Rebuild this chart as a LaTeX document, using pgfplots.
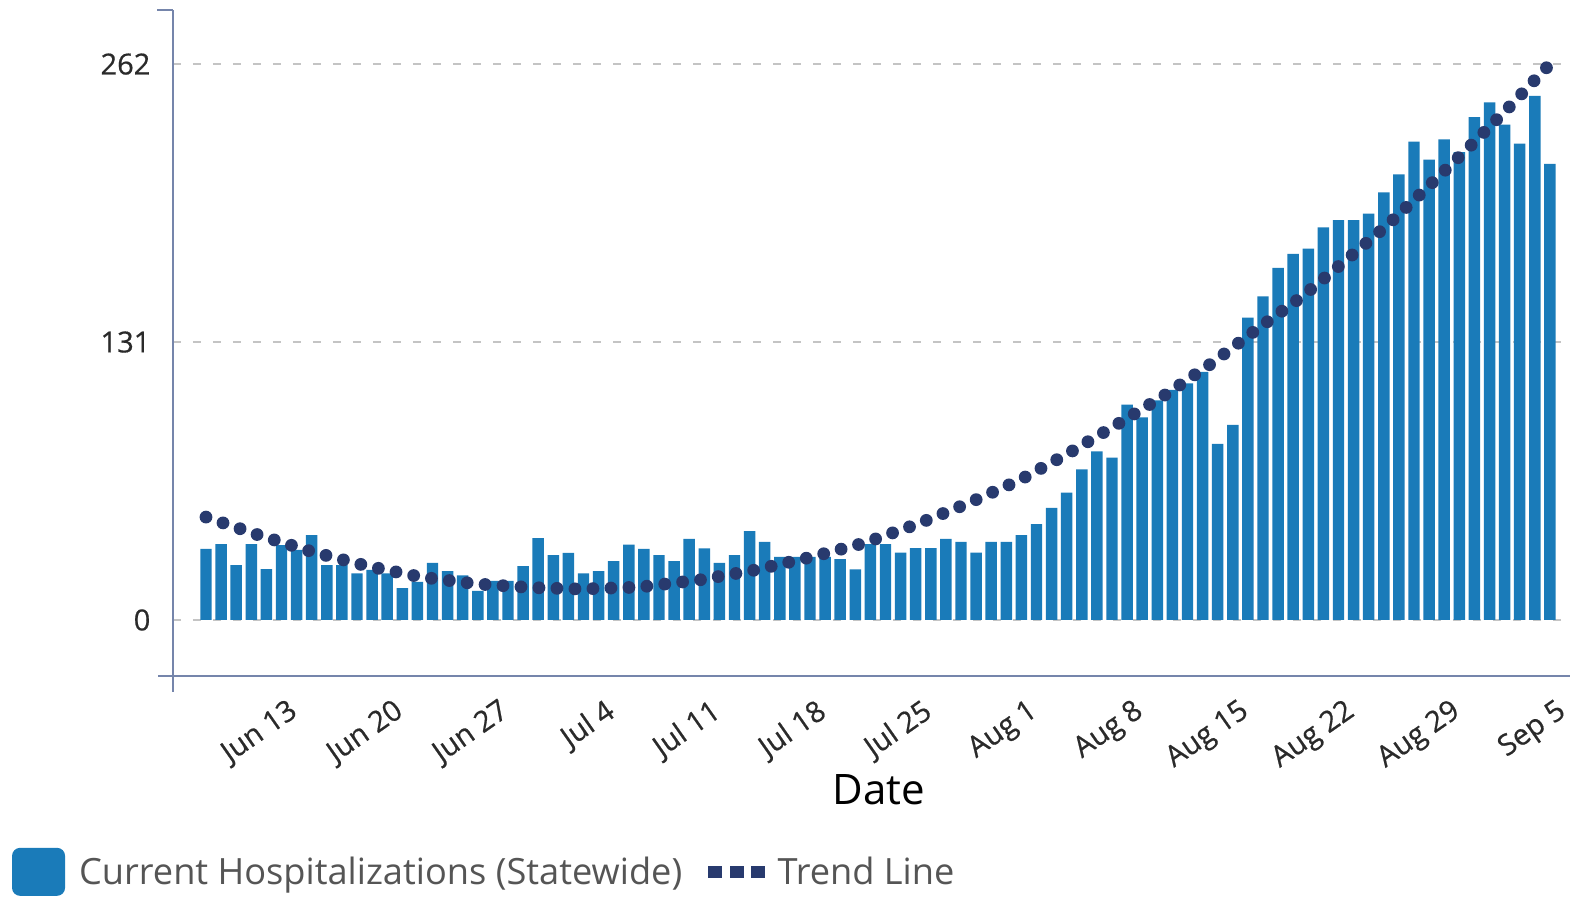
\documentclass[border=0pt]{standalone}
\usepackage{pgfplots}
\usepackage{pgfplotstable}
\pgfplotsset{compat=1.18}
\usepackage{fontspec}
\setmainfont{Open Sans}
\newfontfamily\tickfont[FakeBold=0.6]{Open Sans}
\definecolor{barblue}{HTML}{1A7BB9}
\definecolor{trendnavy}{HTML}{283A6E}
\definecolor{axisgray}{HTML}{7585AB}
\definecolor{gridgray}{HTML}{C4C4C4}
\definecolor{ticktext}{HTML}{2A2A2A}
\definecolor{legtext}{HTML}{555555}

\pgfplotstableread{
day val
1 33.5
2 35.8
3 25.9
4 35.8
5 24
6 35.3
7 33
8 40
9 25.9
10 25.9
11 22
12 23.6
13 22
14 15
15 18
16 26.9
17 23
18 21
19 13.7
20 18.4
21 18.4
22 25.4
23 38.6
24 30.6
25 31.6
26 22
27 23
28 27.8
29 35.5
30 33.5
31 30.6
32 27.8
33 38.2
34 33.7
35 26.9
36 30.6
37 41.9
38 36.8
39 29.7
40 29.7
41 29.7
42 29.7
43 28.7
44 23.8
45 35.8
46 35.8
47 31.8
48 33.9
49 33.9
50 38.2
51 36.8
52 31.8
53 36.8
54 36.8
55 40
56 45.2
57 52.8
58 60
59 71
60 79.5
61 76.5
62 101.5
63 95.5
64 103.5
65 108.5
66 111.5
67 117
68 83
69 92
70 142.5
71 152.5
72 166
73 172.5
74 175
75 185
76 188.5
77 188.5
78 191.5
79 201.5
80 210
81 225.5
82 217
83 226.5
84 220.5
85 237
86 244
87 233.5
88 224.5
89 247
90 215
}\hosp

\pgfplotstableread{
day val
1 48.5
4.5 40
8.1 32
11.7 25.4
15.2 20.3
18.9 17
22.5 15.3
25.8 14.6
29.7 15.5
33.7 18.9
37.4 23.6
41.1 29.7
44.6 36.3
48.1 45.2
51.5 55.1
54.9 66
58.1 78.5
61.3 92
64.5 106
67.6 121
70.5 136.5
73.6 152.5
76.4 169
79.3 186.5
81.9 204
84.6 222.5
87.2 241
89.8 260.5
}\trend

\begin{document}
\begin{tikzpicture}
\begin{axis}[
  scale only axis,
  width=698.5pt, height=333pt,
  xmin=-1.185, xmax=91.33,
  ymin=-26.4, ymax=287.5,
  axis x line*=bottom, axis y line*=left,
  axis line style={axisgray, line width=1pt},
  xtick={7,14,21,28,35,42,49,56,63,70,77,84,91},
  xticklabels={Jun 13,Jun 20,Jun 27,Jul 4,Jul 11,Jul 18,Jul 25,Aug 1,Aug 8,Aug 15,Aug 22,Aug 29,Sep 5},
  ytick={0,131,262},
  major tick length=0pt,
  ymajorgrids,
  grid style={gridgray, line width=1pt, dash pattern=on 4pt off 6pt},
  tick label style={font=\tickfont\fontsize{14.5}{16}\selectfont, text=ticktext},
  /pgf/number format/assume math mode=true,
  xticklabel style={xshift=-4.9pt, yshift=-10.5pt, rotate=35, anchor=north east, inner sep=0pt},
  yticklabel style={xshift=-7.8pt},
  xlabel={Date},
  xlabel style={at={(axis description cs:0.5054,0)}, anchor=center, yshift=-57pt,
    font=\fontsize{21}{24}\selectfont, text=black},
  legend columns=-1,
  legend style={at={(axis description cs:-0.1152,-0.258)}, anchor=north west,
    draw=none, fill=none, inner sep=0pt, outer sep=0pt,
    font=\fontsize{18.1}{20}\selectfont, text=legtext,
    /tikz/every even column/.append style={column sep=11pt}},
  legend cell align=left,
]
\addplot[ybar, bar width=0.76, fill=barblue, draw=none,
  legend image code/.code={\path[fill=barblue, draw=none, rounded corners=4pt] (0pt,-12pt) rectangle (26.5pt,12pt); \path (31.5pt,0pt);}]
  table[x=day,y=val]{\hosp};
\addlegendentry{Current Hospitalizations (Statewide)}
\addplot[trendnavy, line width=6.4pt, line cap=round, dash pattern=on 0pt off 9pt,
  legend image code/.code={
    \path[fill=trendnavy, draw=none] (0pt,-3pt) rectangle (7pt,3pt);
    \path[fill=trendnavy, draw=none] (10.75pt,-3pt) rectangle (17.75pt,3pt);
    \path[fill=trendnavy, draw=none] (21.5pt,-3pt) rectangle (28.5pt,3pt);
    \path (29.5pt,0pt);}]
  table[x=day,y=val]{\trend};
\addlegendentry{Trend Line}
\end{axis}
\draw[axisgray, line width=1pt] (0,0) -- (0,-8pt);
\draw[axisgray, line width=1pt] (0,0) -- (-7.5pt,0);
\draw[axisgray, line width=1pt] (0,333pt) -- (-8pt,333pt);
\pgfresetboundingbox
\useasboundingbox (-86.5pt,-110pt) rectangle (698.5pt,338pt);
\end{tikzpicture}
\end{document}
